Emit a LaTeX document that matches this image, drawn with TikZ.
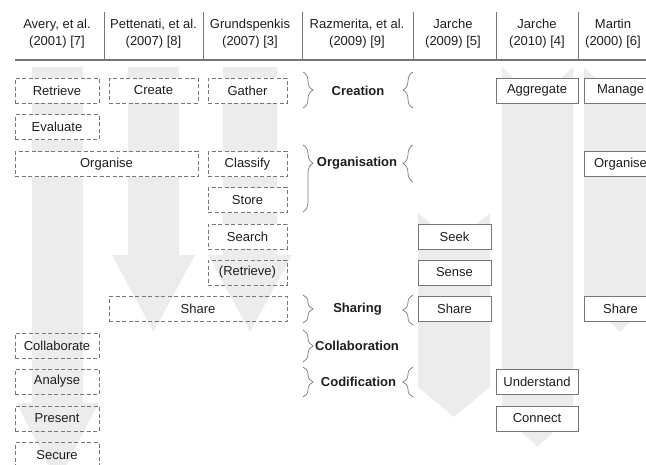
\documentclass[tikz,border=0pt]{standalone}
\usepackage{fontspec}
\setmainfont{Liberation Sans}
\usetikzlibrary{decorations.pathreplacing}
\definecolor{arrowgray}{RGB}{236,236,236}
\definecolor{linegray}{RGB}{118,118,118}
\definecolor{txt}{RGB}{30,30,30}
\begin{document}
\begin{tikzpicture}[x=1pt,y=-1pt,
  every node/.style={font=\fontsize{13}{17}\selectfont, text=txt, inner sep=0pt},
  dbox/.style={draw=linegray, dash pattern=on 4pt off 2.5pt, line width=0.8pt, minimum height=25pt, fill=white},
  tbox/.style={dbox, fill=none},
  sbox/.style={draw=linegray, line width=0.9pt, minimum height=25pt, fill=white},
  hdr/.style={align=center},
  lab/.style={font=\fontsize{13}{17}\selectfont\bfseries},
  brc/.style={decorate, decoration={brace, amplitude=10pt}, draw=linegray, line width=0.7pt},
  sep/.style={draw=linegray, line width=0.9pt},
  garrow/.style={fill=arrowgray}
]
\useasboundingbox (0,0) rectangle (646,464);
\clip (0,0) rectangle (646,464);

% background arrows
\fill[garrow] (32,67) -- (83,67) -- (83,403) -- (98.5,403) -- (57.5,482) -- (16.5,403) -- (32,403) -- cycle;
\fill[garrow] (128,67) -- (179,67) -- (179,255) -- (195,255) -- (153.5,332) -- (112,255) -- (128,255) -- cycle;
\fill[garrow] (223,67) -- (277,67) -- (277,255) -- (292,255) -- (250,332) -- (208,255) -- (223,255) -- cycle;
\fill[garrow] (418,213) -- (454,243) -- (490,213) -- (490,387) -- (454,417) -- (418,387) -- cycle;
\fill[garrow] (502,67) -- (537.5,101) -- (573,67) -- (573,413) -- (537.5,447) -- (502,413) -- cycle;
\fill[garrow] (584,67) -- (620,103) -- (656,67) -- (656,296) -- (620,332) -- (584,296) -- cycle;

% header
\node[hdr] (h1) at (57,33.5) {Avery, et al.\\(2001) [7]};
\node[hdr] (h2) at (153.5,33.5) {Pettenati, et al.\\(2007) [8]};
\node[hdr] (h3) at (250,33.5) {Grundspenkis\\(2007) [3]};
\node[hdr] (h4) at (357,33.5) {Razmerita, et al.\\(2009) [9]};
\node[hdr] (h5) at (453,33.5) {Jarche\\(2009) [5]};
\node[hdr] (h6) at (537,33.5) {Jarche\\(2010) [4]};
\node[hdr] (h7) at (613,33.5) {Martin\\(2000) [6]};
\coordinate (hl) at (15,60);
\coordinate (hr) at (646,60);
\draw[draw=linegray, line width=1.4pt] (hl) -- (hr);
\foreach \x in {104,203,302,413,496,578} {
  \draw[sep] (\x,12) -- (\x,60);
}

% Avery
\node[dbox, minimum width=84pt] (a1) at (57,90.5) {Retrieve};
\node[dbox, minimum width=84pt] (a2) at (57,127) {Evaluate};
\node[dbox, minimum width=183pt] (a3) at (106.5,164) {Organise};
\node[tbox, minimum width=84pt] (a4) at (57,345.5) {Collaborate};
\node[tbox, minimum width=84pt] (a5) at (57,381.5) {Analyse};
\node[tbox, minimum width=84pt] (a6) at (57,418.5) {Present};
\node[tbox, minimum width=84pt] (a7) at (57,455) {Secure};

% Pettenati
\node[dbox, minimum width=89pt] (p1) at (153.5,90.5) {Create};
\node[tbox, minimum width=178pt] (p2) at (198,309) {Share};

% Grundspenkis
\node[dbox, minimum width=79pt] (g1) at (247.5,90.5) {Gather};
\node[dbox, minimum width=79pt] (g2) at (247.5,164) {Classify};
\node[dbox, minimum width=79pt] (g3) at (247.5,200) {Store};
\node[dbox, minimum width=79pt] (g4) at (247.5,236.5) {Search};
\node[tbox, minimum width=79pt] (g5) at (247.5,272.5) {(Retrieve)};

% Razmerita
\node[lab] (r1) at (358,90.5) {Creation};
\node[lab] (r2) at (357,163) {Organisation};
\node[lab] (r3) at (357.5,309) {Sharing};
\node[lab] (r4) at (357,346) {Collaboration};
\node[lab] (r5) at (358.5,382) {Codification};
\draw[brc] (303,72) -- (303,108);
\draw[brc] (413,108) -- (413,72);
\draw[brc, decoration={aspect=0.27}] (303,145) -- (303,212);
\draw[brc] (413,182) -- (413,145);
\draw[brc] (303,295) -- (303,323);
\draw[brc] (413,325) -- (413,295);
\draw[brc] (303,330) -- (303,362);
\draw[brc] (303,367) -- (303,397);
\draw[brc] (413,397) -- (413,367);

% Jarche 2009
\node[sbox, minimum width=73pt] (j1) at (454.5,236.5) {Seek};
\node[sbox, minimum width=73pt] (j2) at (454.5,272.5) {Sense};
\node[sbox, minimum width=73pt] (j3) at (454.5,309) {Share};

% Jarche 2010
\node[sbox, minimum width=82pt] (k1) at (537,90.5) {Aggregate};
\node[sbox, minimum width=82pt] (k2) at (537,381.5) {Understand};
\node[sbox, minimum width=82pt] (k3) at (537,418.5) {Connect};

% Martin
\node[sbox, minimum width=73pt] (m1) at (620.5,90.5) {Manage};
\node[sbox, minimum width=73pt] (m2) at (620.5,164) {Organise};
\node[sbox, minimum width=73pt] (m3) at (620.5,309) {Share};
\end{tikzpicture}
\end{document}
